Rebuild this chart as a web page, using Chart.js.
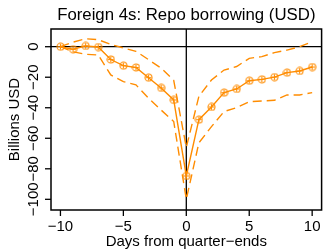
<!DOCTYPE html>
<html>
<head>
<meta charset="utf-8">
<script src="https://cdn.jsdelivr.net/npm/chart.js@4/dist/chart.umd.min.js"></script>
<style>
  html, body { margin: 0; padding: 0; background: #fff; }
  #wrap { width: 327px; height: 249px; position: relative; }
</style>
</head>
<body>
<div id="wrap"><canvas id="repo"></canvas></div>
<script>
// days relative to quarter-end
const days = [-10, -9, -8, -7, -6, -5, -4, -3, -2, -1, 0, 1, 2, 3, 4, 5, 6, 7, 8, 9, 10];
// point estimate, billions USD
const estimate = [0, -1.7, 0.5, -0.2, -8.4, -12.4, -13.6, -20.3, -27.0, -34.9, -84.7,
                  -47.8, -39.5, -30.1, -27.7, -22.3, -21.4, -19.9, -17.0, -15.9, -13.3];
// confidence band
const upper = [0, 3.0, 5.2, 4.6, 1.5, -0.8, -3.0, -8.5, -14.0, -22.0, -66.0,
               -32.5, -21.8, -15.3, -13.0, -7.6, -6.5, -3.9, -2.2, 0.0, 3.3];
const lower = [0, -3.3, -5.0, -5.4, -18.5, -22.9, -25.0, -33.8, -41.5, -49.0, -100.0,
               -63.0, -52.4, -42.5, -39.9, -36.0, -35.6, -35.1, -31.6, -31.6, -30.1];
const xTicks = [-10, -5, 0, 5, 10];
const yTicks = [0, -20, -40, -60, -80, -100];

const ORANGE = '#ff8c00';
const FONT = '"Liberation Sans", Arial, sans-serif';
const minus = v => String(v).replace('-', '\u2212');

// circle with a plus inside (R pch 10)
function marker() {
    const c = document.createElement('canvas');
    c.width = 9; c.height = 9;
    const g = c.getContext('2d');
    g.strokeStyle = ORANGE;
    g.lineWidth = 1.1;
    g.beginPath(); g.arc(4.5, 4.5, 3.5, 0, Math.PI * 2); g.stroke();
    g.beginPath();
    g.moveTo(4.5, 1.8); g.lineTo(4.5, 7.2);
    g.moveTo(1.8, 4.5); g.lineTo(7.2, 4.5);
    g.stroke();
    return c;
}

const pts = a => days.map((d, i) => ({ x: d, y: a[i] }));

const overlay = {
    id: 'overlay',
    beforeDatasetsDraw(chart) {
        const { ctx, chartArea: a, scales: { x, y } } = chart;
        ctx.save();
        ctx.strokeStyle = '#000';
        ctx.lineWidth = 1.3;
        ctx.beginPath();
        ctx.moveTo(a.left, y.getPixelForValue(0));
        ctx.lineTo(a.right, y.getPixelForValue(0));
        ctx.moveTo(x.getPixelForValue(0), a.top);
        ctx.lineTo(x.getPixelForValue(0), a.bottom);
        ctx.stroke();
        ctx.restore();
    },
    afterDraw(chart) {
        const { ctx, chartArea: a, scales: { x, y } } = chart;
        ctx.save();
        ctx.strokeStyle = '#000';
        ctx.lineWidth = 1.5;
        ctx.strokeRect(a.left, a.top, a.right - a.left, a.bottom - a.top);
        ctx.fillStyle = '#000';
        ctx.textAlign = 'center';
        ctx.textBaseline = 'middle';
        ctx.lineWidth = 1.3;
        ctx.font = '15px ' + FONT;
        // x ticks
        xTicks.forEach(v => {
            const px = x.getPixelForValue(v);
            ctx.beginPath();
            ctx.moveTo(px, a.bottom);
            ctx.lineTo(px, a.bottom + 6);
            ctx.stroke();
            ctx.fillText(minus(v), px, 226.5);
        });
        // y ticks, labels written vertically
        yTicks.forEach(v => {
            const py = y.getPixelForValue(v);
            ctx.beginPath();
            ctx.moveTo(a.left - 6, py);
            ctx.lineTo(a.left, py);
            ctx.stroke();
            ctx.save();
            ctx.translate(34, py);
            ctx.rotate(-Math.PI / 2);
            ctx.fillText(minus(v), 0, 0);
            ctx.restore();
        });
        ctx.fillText('Days from quarter\u2212ends', (a.left + a.right) / 2, 242);
        ctx.save();
        ctx.translate(15, (a.top + a.bottom) / 2);
        ctx.rotate(-Math.PI / 2);
        ctx.fillText('Billions USD', 0, 0);
        ctx.restore();
        // title centred over the plot
        ctx.font = '16.8px ' + FONT;
        ctx.fillText('Foreign 4s: Repo borrowing (USD)', (a.left + a.right) / 2, 15);
        ctx.restore();
    }
};

new Chart(document.getElementById('repo'), {
    type: 'line',
    data: {
        datasets: [
            {
                label: 'Upper',
                data: pts(upper),
                borderColor: ORANGE,
                borderWidth: 1.4,
                borderDash: [9, 5],
                pointRadius: 0,
                fill: false
            },
            {
                label: 'Lower',
                data: pts(lower),
                borderColor: ORANGE,
                borderWidth: 1.4,
                borderDash: [9, 5],
                pointRadius: 0,
                fill: false
            },
            {
                label: 'Estimate',
                data: pts(estimate),
                borderColor: ORANGE,
                borderWidth: 1.4,
                pointStyle: marker(),
                pointRadius: 4,
                fill: false
            }
        ]
    },
    options: {
        responsive: true,
        maintainAspectRatio: false,
        animation: false,
        layout: { padding: { left: 0, right: 2, top: 29, bottom: 0 } },
        plugins: { legend: { display: false }, tooltip: { enabled: false } },
        scales: {
            x: {
                type: 'linear',
                min: -10.75,
                max: 10.75,
                afterFit(s) { s.height = 39; },
                grid: { display: false },
                border: { display: false },
                ticks: { display: false }
            },
            y: {
                type: 'linear',
                min: -107,
                max: 11.6,
                afterFit(s) { s.width = 51; },
                grid: { display: false },
                border: { display: false },
                ticks: { display: false }
            }
        }
    },
    plugins: [overlay]
});
</script>
</body>
</html>
